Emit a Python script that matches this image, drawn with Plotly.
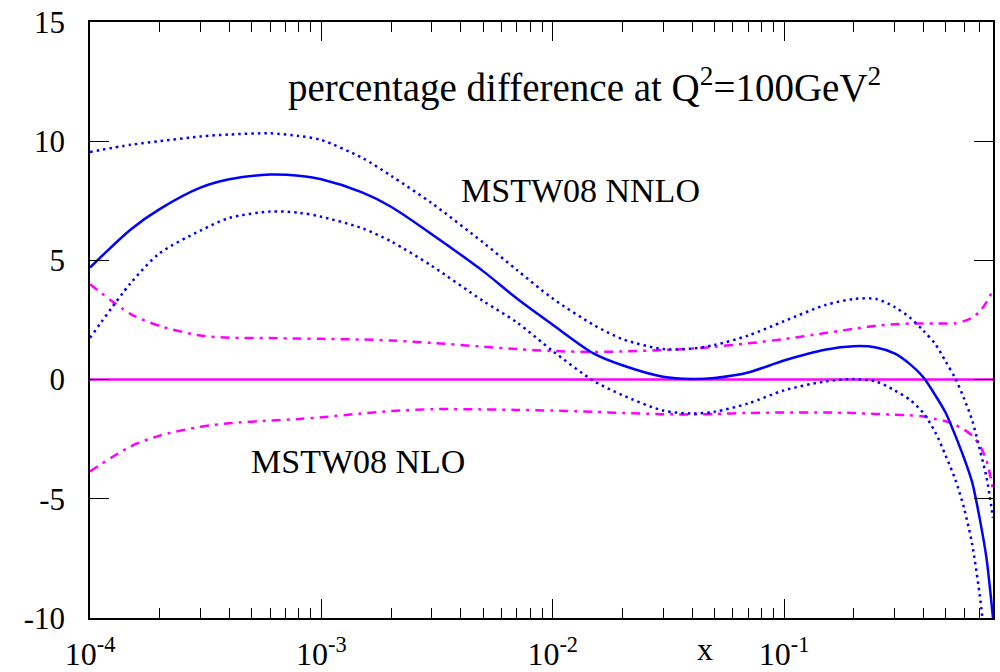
import plotly.graph_objects as go

# x grid (momentum fraction)
x_vals = [1e-4, 1.5e-4, 2e-4, 3e-4, 4e-4, 6e-4, 8e-4, 1e-3, 1.5e-3, 2e-3, 3e-3, 5e-3, 7e-3,
          1e-2, 1.5e-2, 2e-2, 3e-2, 4e-2, 5e-2, 7e-2, 1e-1, 1.5e-1, 2e-1, 2.5e-1, 3e-1,
          3.5e-1, 4e-1, 4.5e-1, 5e-1, 5.5e-1, 6e-1, 6.5e-1, 7e-1, 7.5e-1, 0.8]

# MSTW08 NNLO central (percentage difference)
nnlo_central = [4.7, 6.3, 7.15, 8.05, 8.4, 8.6, 8.55, 8.4, 7.85, 7.25, 6.1, 4.55, 3.4,
                2.3, 1.1, 0.6, 0.12, 0.03, 0.07, 0.3, 0.8, 1.25, 1.4, 1.35, 1.1,
                0.65, 0.1, -0.65, -1.4, -2.35, -3.3, -4.3, -5.8, -7.5, -10.0]

# MSTW08 NNLO upper error band
nnlo_upper = [9.55, 9.85, 10.0, 10.2, 10.28, 10.33, 10.22, 10.05, 9.3, 8.55, 7.4, 5.75, 4.6,
              3.4, 2.3, 1.7, 1.28, 1.3, 1.45, 1.85, 2.45, 3.12, 3.38, 3.38, 3.05,
              2.6, 2.05, 1.5, 0.75, 0.05, -0.8, -1.7, -2.9, -4.1, -5.8]

# MSTW08 NNLO lower error band
nnlo_lower = [1.75, 4.05, 5.3, 6.25, 6.78, 7.05, 7.0, 6.83, 6.35, 5.8, 4.77, 3.3, 2.4,
              1.2, -0.05, -0.65, -1.3, -1.42, -1.35, -1.0, -0.45, -0.08, 0.02, -0.08, -0.45,
              -0.85, -1.4, -2.2, -3.2, -4.2, -5.4, -6.9, -9.0, -11.5, -14.0]

# MSTW08 NLO central (reference, zero)
nlo_central = [0.0] * len(x_vals)

# MSTW08 NLO upper error band
nlo_upper = [4.0, 2.75, 2.25, 1.85, 1.76, 1.74, 1.72, 1.71, 1.68, 1.64, 1.54, 1.38, 1.28,
             1.2, 1.16, 1.18, 1.24, 1.3, 1.38, 1.52, 1.7, 1.95, 2.13, 2.26, 2.32,
             2.35, 2.35, 2.35, 2.35, 2.36, 2.45, 2.6, 2.85, 3.25, 3.75]

# MSTW08 NLO lower error band
nlo_lower = [-3.85, -2.8, -2.35, -1.98, -1.83, -1.72, -1.65, -1.58, -1.42, -1.32, -1.24, -1.25, -1.27,
             -1.3, -1.35, -1.4, -1.45, -1.46, -1.44, -1.4, -1.38, -1.38, -1.4, -1.44, -1.47,
             -1.5, -1.55, -1.65, -1.75, -1.9, -2.1, -2.35, -2.75, -3.4, -4.6]

x_tick_vals = [1e-4, 1e-3, 1e-2, 1e-1]
x_tick_text = ["10<sup>-4</sup>", "10<sup>-3</sup>", "10<sup>-2</sup>", "10<sup>-1</sup>"]
y_tick_vals = [-10, -5, 0, 5, 10, 15]
y_tick_text = ["-10", "-5", "0", "5", "10", "15"]

minor_vals = [m * 10.0 ** e for e in (-4, -3, -2, -1) for m in range(2, 10)]

BLUE = "#0000ff"
MAGENTA = "#ff00ff"
DOT = "2.5px,4px"
DASHDOT = "9px,6px,3px,6px"

fig = go.Figure()
fig.add_trace(go.Scatter(x=x_vals, y=nlo_central, mode="lines",
                         line=dict(color=MAGENTA, width=2.5)))
fig.add_trace(go.Scatter(x=x_vals, y=nlo_upper, mode="lines", line_shape="spline",
                         line=dict(color=MAGENTA, width=2.5, dash=DASHDOT, smoothing=0.8)))
fig.add_trace(go.Scatter(x=x_vals, y=nlo_lower, mode="lines", line_shape="spline",
                         line=dict(color=MAGENTA, width=2.5, dash=DASHDOT, smoothing=0.8)))
fig.add_trace(go.Scatter(x=x_vals, y=nnlo_upper, mode="lines", line_shape="spline",
                         line=dict(color=BLUE, width=2.5, dash=DOT, smoothing=0.8)))
fig.add_trace(go.Scatter(x=x_vals, y=nnlo_lower, mode="lines", line_shape="spline",
                         line=dict(color=BLUE, width=2.5, dash=DOT, smoothing=0.8)))
fig.add_trace(go.Scatter(x=x_vals, y=nnlo_central, mode="lines", line_shape="spline",
                         line=dict(color=BLUE, width=2.5, smoothing=0.8)))

FONT = "Liberation Serif"

fig.update_layout(
    width=1000, height=672,
    margin=dict(l=90, r=7, t=22, b=54, autoexpand=False),
    paper_bgcolor="white", plot_bgcolor="white",
    showlegend=False,
    font=dict(family=FONT, color="black", size=31),
    xaxis=dict(
        type="log", range=[-4, -0.0969], automargin=False,
        tickmode="array", tickvals=x_tick_vals, ticktext=x_tick_text,
        ticks="inside", ticklen=19, tickwidth=1.2, tickcolor="black",
        showline=True, linecolor="black", linewidth=1.6, mirror="allticks",
        showgrid=False, zeroline=False,
        ticklabelstandoff=7,
        tickfont=dict(family=FONT, size=32, color="black"),
        minor=dict(tickmode="array", tickvals=minor_vals, ticks="inside",
                   ticklen=10, tickwidth=1.2, tickcolor="black", showgrid=False),
    ),
    yaxis=dict(
        range=[-10, 15], automargin=False,
        tickmode="array", tickvals=y_tick_vals, ticktext=y_tick_text,
        ticks="inside", ticklen=19, tickwidth=1.2, tickcolor="black",
        showline=True, linecolor="black", linewidth=1.6, mirror="allticks",
        showgrid=False, zeroline=False,
        ticklabelstandoff=17,
        tickfont=dict(family=FONT, size=31, color="black"),
    ),
    annotations=[
        dict(text="percentage difference at Q<sup>2</sup>=100GeV<sup>2</sup>",
             xref="paper", yref="paper", x=0.548, y=0.894,
             xanchor="center", yanchor="middle", showarrow=False,
             font=dict(family=FONT, size=39, color="black")),
        dict(text="MSTW08 NNLO", xref="paper", yref="paper", x=0.543, y=0.718,
             xanchor="center", yanchor="middle", showarrow=False,
             font=dict(family=FONT, size=34, color="black")),
        dict(text="MSTW08 NLO", xref="paper", yref="paper", x=0.297, y=0.262,
             xanchor="center", yanchor="middle", showarrow=False,
             font=dict(family=FONT, size=34, color="black")),
        dict(text="x", xref="paper", yref="paper", x=0.681, y=-0.018,
             xanchor="center", yanchor="top", showarrow=False,
             font=dict(family=FONT, size=32, color="black")),
    ],
)

fig.write_html("out.html")
